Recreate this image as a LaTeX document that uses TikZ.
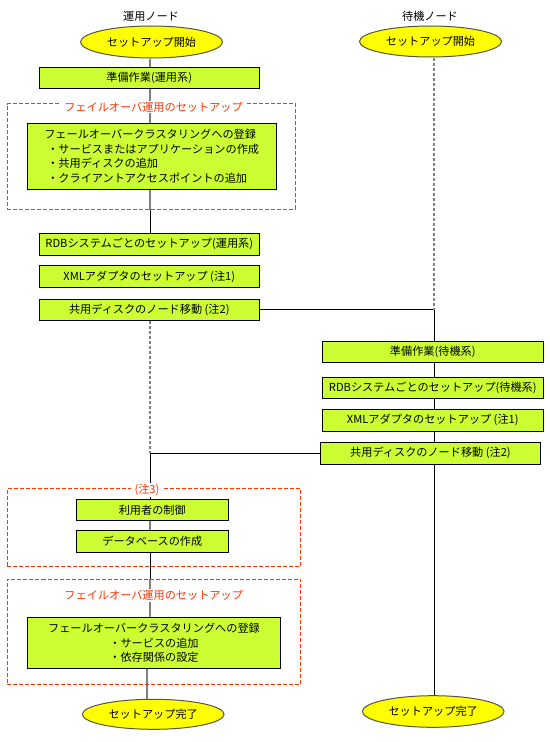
\documentclass[tikz,border=0pt]{standalone}
\usepackage{fontspec}
\newfontfamily\jp{Noto Sans CJK JP}
\usetikzlibrary{shapes.geometric}
\definecolor{boxfill}{HTML}{CCFF33}
\definecolor{ellfill}{HTML}{FFFF00}
\definecolor{ellline}{HTML}{555544}
\definecolor{frred}{HTML}{FF3300}
\definecolor{lgray}{HTML}{808080}
\pgfdeclarelayer{bg}
\pgfsetlayers{bg,main}
\tikzset{
  jpfont/.style={font=\jp\fontsize{11.2}{14.5}\selectfont},
  stepbox/.style={draw=black, line width=1bp, fill=boxfill, inner sep=0pt, jpfont},
  termell/.style={ellipse, draw=ellline, line width=1bp, fill=ellfill, inner sep=0pt, jpfont},
  frame/.style={draw=frred, dash pattern=on 4bp off 2bp, line width=1bp, inner sep=0pt},
  frtitle/.style={fill=white, text=frred, inner xsep=4bp, inner ysep=1bp, jpfont},
  lbl/.style={jpfont, inner sep=0pt},
  solidc/.style={draw=black, line width=1bp},
  grayc/.style={draw=lgray, line width=1.3bp},
  dashc/.style={draw=lgray, line width=1.3bp, dash pattern=on 3bp off 2bp},
}
\begin{document}
\begin{tikzpicture}[x=1bp, y=-1bp]
\useasboundingbox (0,0) rectangle (550,742);
\coordinate (cl) at (150,0);
\coordinate (cr) at (434,0);

% titles
\node[lbl] (t1) at (151,16) {運用ノード};
\node[lbl] (t2) at (430,16) {待機ノード};

% start ellipses
\node[termell, minimum width=142bp, minimum height=32bp] (s1) at (151.5,42) {セットアップ開始};
\node[termell, minimum width=142bp, minimum height=31bp] (s2) at (430.5,41.5) {セットアップ開始};

% left column
\node[stepbox, minimum width=220bp, minimum height=21bp] (b1) at (149.2,78) {準備作業(運用系)};
\node[frame, minimum width=288.4bp, minimum height=105bp] (f1) at (151.5,156.5) {};
\node[frtitle] (f1t) at (153.5,107) {フェイルオーバ運用のセットアップ};
\node[stepbox, minimum width=248.7bp, minimum height=66bp, align=left] (b2) at (151.7,156.3)
  {フェールオーバークラスタリングへの登録\\
   \hspace*{3bp}・サービスまたはアプリケーションの作成\\
   \hspace*{3bp}・共用ディスクの追加\\
   \hspace*{3bp}・クライアントアクセスポイントの追加};
\node[stepbox, minimum width=220bp, minimum height=22bp] (b3) at (149.3,244.3) {RDBシステムごとのセットアップ(運用系)};
\node[stepbox, minimum width=220bp, minimum height=21.6bp] (b4) at (149.3,276.5) {XMLアダプタのセットアップ (注1)};
\node[stepbox, minimum width=220bp, minimum height=20.7bp] (b5) at (149.3,309.7) {共用ディスクのノード移動 (注2)};

% right column
\node[stepbox, minimum width=221bp, minimum height=21bp] (r1) at (432.8,352.2) {準備作業(待機系)};
\node[stepbox, minimum width=221bp, minimum height=20.6bp] (r2) at (432.8,388) {RDBシステムごとのセットアップ(待機系)};
\node[stepbox, minimum width=221bp, minimum height=21.7bp] (r3) at (432.8,420.2) {XMLアダプタのセットアップ (注1)};
\node[stepbox, minimum width=220.4bp, minimum height=22bp] (r4) at (430.5,453.3) {共用ディスクのノード移動 (注2)};

% left lower part
\node[frame, minimum width=293.4bp, minimum height=78bp] (f2) at (154,527.3) {};
\node[frtitle] (f2t) at (147,490) {(注3)};
\node[stepbox, minimum width=152bp, minimum height=21bp] (b6) at (152.3,509.8) {利用者の制御};
\node[stepbox, minimum width=152bp, minimum height=21.7bp] (b7) at (152.3,541.2) {データベースの作成};
\node[frame, minimum width=293.4bp, minimum height=105.4bp] (f3) at (154,632) {};
\node[frtitle] (f3t) at (153.7,595.5) {フェイルオーバ運用のセットアップ};
\node[stepbox, minimum width=253.4bp, minimum height=51bp, align=center] (b8) at (154,642.8)
  {フェールオーバークラスタリングへの登録\\
   ・サービスの追加\\
   ・依存関係の設定};

% end ellipses
\node[termell, minimum width=141.7bp, minimum height=30bp] (e1) at (153.2,714.3) {セットアップ完了};
\node[termell, minimum width=141.7bp, minimum height=31.6bp] (e2) at (433.2,711.5) {セットアップ完了};

\coordinate (jr) at (b5.east -| cr);
\coordinate (jl) at (r4.west -| cl);
\coordinate (cl2) at (147,0);

\begin{pgfonlayer}{bg}
\draw[grayc] (s1.south -| cl) -- (b1.north -| cl);
\draw[grayc] (b1.south -| cl) -- (b2.north -| cl);
\draw[grayc] (b2.south -| cl) -- (f1.south -| cl);
\draw[solidc] (f1.south -| cl) -- (b3.north -| cl);
\draw[solidc] (b5.east) -- (jr);
\draw[dashc] (s2.south -| cr) -- (jr);
\draw[solidc] (jr) -- (r1.north -| cr);
\draw[solidc] (r1.south -| cr) -- (r2.north -| cr);
\draw[solidc] (r2.south -| cr) -- (r3.north -| cr);
\draw[solidc] (r3.south -| cr) -- (r4.north -| cr);
\draw[solidc] (r4.west) -- (jl);
\draw[dashc] (b5.south -| cl) -- (jl);
\draw[solidc] (jl) -- (b6.north -| cl);
\draw[grayc] (b6.south -| cl) -- (b7.north -| cl);
\draw[solidc] (b7.south -| cl) -- (f3.north -| cl);
\draw[grayc] (f3.north -| cl) -- (b8.north -| cl);
\draw[grayc] (b8.south -| cl2) -- (e1.north -| cl2);
\draw[solidc] (r4.south -| cr) -- (e2.north -| cr);
\end{pgfonlayer}
\end{tikzpicture}
\end{document}
